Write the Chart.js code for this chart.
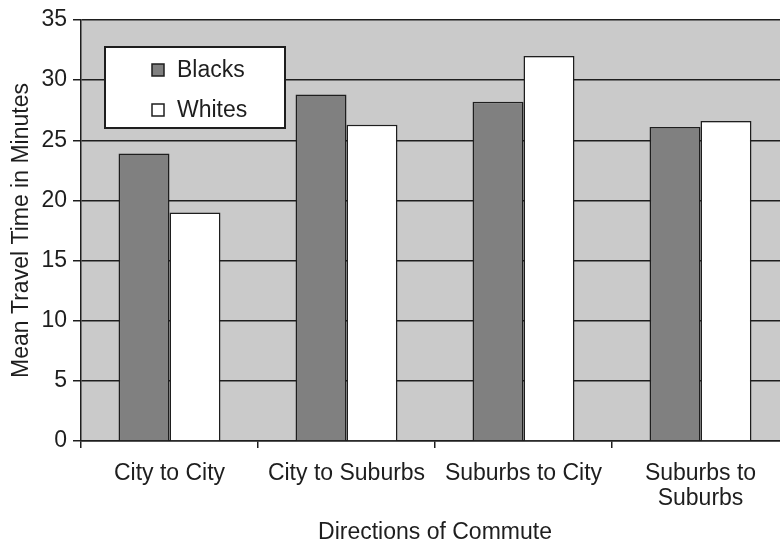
<!DOCTYPE html>
<html>
<head>
<meta charset="utf-8">
<script src="https://cdn.jsdelivr.net/npm/chart.js@4/dist/chart.umd.min.js"></script>
<style>
  html, body { margin: 0; padding: 0; background: #fff; overflow: hidden; }
  #wrap { position: relative; width: 790px; height: 542px; }
</style>
</head>
<body>
<div id="wrap"><canvas id="myChart"></canvas></div>
<script>
// datos
const categorias = ['City to City', 'City to Suburbs', 'Suburbs to City', ['Suburbs to', 'Suburbs']];
const negros = [23.9, 28.8, 28.2, 26.1];
const blancos = [19.0, 26.3, 32.0, 26.6];
const nombres = ['Blacks', 'Whites'];

const fuente = 'Liberation Sans, Arial, Helvetica, sans-serif';
const tinta = '#1e1e1e';
const tam = 23;

// fondo gris del area de dibujo
const fondoPlugin = {
  id: 'fondo',
  beforeDraw(chart) {
    const a = chart.chartArea;
    const c = chart.ctx;
    c.save();
    c.fillStyle = '#cacaca';
    c.fillRect(a.left, a.top, a.right - a.left, a.bottom - a.top);
    c.restore();
  }
};

// leyenda dentro del area, como en el original
const leyendaPlugin = {
  id: 'leyendaCaja',
  afterDraw(chart) {
    const c = chart.ctx;
    c.save();
    c.fillStyle = '#fff';
    c.strokeStyle = tinta;
    c.lineWidth = 2;
    c.fillRect(105, 47, 180, 81);
    c.strokeRect(105, 47, 180, 81);
    c.font = tam + 'px ' + fuente;
    c.textBaseline = 'middle';
    chart.data.datasets.forEach((ds, i) => {
      const y = 70 + i * 40;
      c.fillStyle = ds.backgroundColor;
      c.fillRect(152, y - 6, 12, 12);
      c.lineWidth = 1.5;
      c.strokeRect(152, y - 6, 12, 12);
      c.fillStyle = tinta;
      c.fillText(ds.label, 177, y + 1);
    });
    c.restore();
  }
};

const ctx = document.getElementById('myChart').getContext('2d');
const chart = new Chart(ctx, {
  type: 'bar',
  data: {
    labels: categorias,
    datasets: [{
      label: nombres[0],
      data: negros,
      backgroundColor: '#808080',
      borderColor: tinta,
      borderWidth: 1.5,
      categoryPercentage: 0.576,
      barPercentage: 1
    }, {
      label: nombres[1],
      data: blancos,
      backgroundColor: '#ffffff',
      borderColor: tinta,
      borderWidth: 1.5,
      categoryPercentage: 0.576,
      barPercentage: 1
    }]
  },
  options: {
    responsive: false,
    animation: false,
    maintainAspectRatio: false,
    layout: { padding: { top: 20, right: 1, left: 0, bottom: 0 } },
    plugins: {
      legend: { display: false },
      tooltip: { enabled: false }
    },
    scales: {
      x: {
        afterFit(s) { s.height = 101; },
        grid: {
          offset: true,
          drawOnChartArea: false,
          color: tinta,
          lineWidth: 1.5,
          tickLength: 7
        },
        border: { color: tinta, width: 1.5 },
        ticks: {
          color: tinta,
          font: { family: fuente, size: tam, lineHeight: 1.1 },
          padding: 13,
          maxRotation: 0,
          autoSkip: false
        },
        title: {
          display: true,
          text: 'Directions of Commute',
          color: tinta,
          font: { family: fuente, size: tam, lineHeight: 0.8 },
          padding: { top: 0, bottom: 0 }
        }
      },
      y: {
        min: 0,
        max: 35,
        afterFit(s) { s.width = 81; },
        grid: {
          color: tinta,
          lineWidth: 1.5,
          tickLength: 8
        },
        border: { color: tinta, width: 1.5 },
        ticks: {
          stepSize: 5,
          color: tinta,
          font: { family: fuente, size: tam },
          padding: 6
        },
        title: {
          display: true,
          text: 'Mean Travel Time in Minutes',
          color: tinta,
          font: { family: fuente, size: tam, lineHeight: 1.0 },
          padding: { top: 10, bottom: 0 }
        }
      }
    }
  },
  plugins: [fondoPlugin, leyendaPlugin]
});
chart.resize(790, 542);
</script>
</body>
</html>
